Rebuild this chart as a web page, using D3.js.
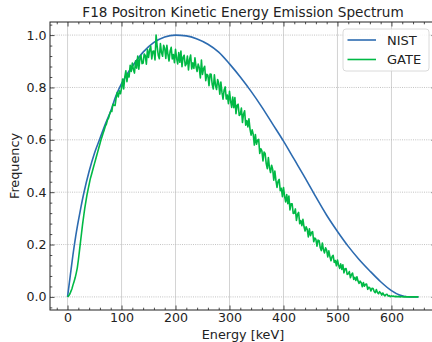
<!DOCTYPE html>
<html>
<head>
<meta charset="utf-8">
<script src="https://cdn.jsdelivr.net/npm/d3@7"></script>
<style>
  body { margin: 0; background: #fff; }
  svg { display: block; font-family: "DejaVu Sans", sans-serif; }
</style>
</head>
<body>
<svg id="chart" width="432" height="342"></svg>
<script>
// NIST reference spectrum, [energy keV, frequency]
const nistData = [
  [0, 0], [5, 0.08], [10, 0.16], [15, 0.23], [20, 0.29], [25, 0.345], [30, 0.395],
  [40, 0.48], [50, 0.55], [60, 0.605], [70, 0.66], [80, 0.71], [90, 0.77],
  [100, 0.815], [110, 0.85], [125, 0.895], [140, 0.935], [160, 0.972], [180, 0.993],
  [200, 1.0], [220, 0.997], [240, 0.985], [260, 0.965], [280, 0.935], [300, 0.89],
  [320, 0.84], [340, 0.785], [360, 0.725], [380, 0.66], [400, 0.595], [420, 0.525],
  [440, 0.455], [460, 0.382], [480, 0.312], [500, 0.25], [520, 0.193], [540, 0.143],
  [560, 0.099], [580, 0.058], [600, 0.024], [615, 0.007], [625, 0.0015], [635, 0], [650, 0]
];

// GATE simulated histogram, one value per 2 keV bin starting at 0 keV
const gateBinWidth = 2;
const gateValues = [
  0, 0.004, 0.01, 0.02, 0.03, 0.045, 0.058, 0.072, 0.09, 0.11,
  0.14, 0.175, 0.21, 0.245, 0.28, 0.31, 0.34, 0.365, 0.39, 0.41,
  0.43, 0.45, 0.465, 0.48, 0.495, 0.51, 0.525, 0.54, 0.555, 0.57,
  0.585, 0.6, 0.613, 0.626, 0.638, 0.652, 0.66, 0.676, 0.683, 0.698,
  0.709, 0.708, 0.736, 0.732, 0.731, 0.760, 0.781, 0.764, 0.787, 0.776,
  0.797, 0.832, 0.794, 0.839, 0.864, 0.822, 0.852, 0.840, 0.885, 0.861,
  0.893, 0.868, 0.855, 0.902, 0.874, 0.920, 0.870, 0.910, 0.923, 0.891,
  0.893, 0.928, 0.921, 0.889, 0.945, 0.915, 0.943, 0.958, 0.909, 0.938,
  0.939, 0.905, 1.0, 0.957, 0.923, 0.910, 0.968, 0.933, 0.919, 0.961,
  0.950, 0.911, 0.961, 0.925, 0.901, 0.938, 0.953, 0.909, 0.926, 0.895,
  0.946, 0.912, 0.890, 0.933, 0.896, 0.939, 0.879, 0.916, 0.923, 0.883,
  0.890, 0.920, 0.867, 0.907, 0.924, 0.871, 0.894, 0.873, 0.913, 0.879,
  0.861, 0.889, 0.875, 0.836, 0.905, 0.850, 0.872, 0.881, 0.826, 0.850,
  0.846, 0.807, 0.851, 0.850, 0.811, 0.794, 0.848, 0.809, 0.792, 0.830,
  0.816, 0.774, 0.821, 0.782, 0.755, 0.790, 0.802, 0.756, 0.771, 0.738,
  0.785, 0.749, 0.724, 0.763, 0.723, 0.761, 0.700, 0.732, 0.736, 0.693,
  0.697, 0.721, 0.666, 0.699, 0.711, 0.656, 0.674, 0.649, 0.680, 0.641,
  0.618, 0.638, 0.621, 0.580, 0.620, 0.583, 0.599, 0.602, 0.548, 0.566,
  0.558, 0.519, 0.553, 0.548, 0.509, 0.490, 0.532, 0.494, 0.475, 0.503,
  0.487, 0.446, 0.481, 0.445, 0.418, 0.442, 0.449, 0.406, 0.415, 0.383,
  0.418, 0.385, 0.363, 0.391, 0.356, 0.385, 0.332, 0.356, 0.356, 0.319,
  0.320, 0.336, 0.292, 0.315, 0.323, 0.280, 0.292, 0.272, 0.296, 0.268,
  0.252, 0.268, 0.257, 0.229, 0.260, 0.234, 0.246, 0.249, 0.211, 0.225,
  0.220, 0.194, 0.217, 0.215, 0.189, 0.177, 0.206, 0.180, 0.168, 0.188,
  0.178, 0.153, 0.176, 0.154, 0.138, 0.154, 0.159, 0.132, 0.139, 0.119,
  0.141, 0.122, 0.109, 0.126, 0.105, 0.123, 0.092, 0.107, 0.108, 0.086,
  0.088, 0.097, 0.073, 0.086, 0.091, 0.067, 0.075, 0.063, 0.077, 0.061,
  0.052, 0.060, 0.054, 0.039, 0.055, 0.041, 0.048, 0.049, 0.029, 0.037,
  0.034, 0.023, 0.033, 0.032, 0.021, 0.016, 0.028, 0.017, 0.012, 0.020,
  0.015, 0.007, 0.015, 0.008, 0.004, 0.009, 0.010, 0.003, 0.005, 0.001,
  0.004, 0.002, 0.003, 0.001, 0.002, 0.001, 0.001, 0.002, 0, 0.001,
  0.001, 0, 0, 0.001, 0, 0, 0, 0, 0, 0,
  0, 0, 0, 0, 0, 0
];

const xTicks = [0, 100, 200, 300, 400, 500, 600];
const yTicks = [0.0, 0.2, 0.4, 0.6, 0.8, 1.0];
const titleText = "F18 Positron Kinetic Energy Emission Spectrum";
const xLabel = "Energy [keV]";
const yLabel = "Frequency";
const seriesNames = ["NIST", "GATE"];
const seriesColors = ["#2c6bb0", "#00b945"];

const svg = d3.select("#chart");
const plotLeft = 50, plotRight = 436, plotTop = 22, plotBottom = 310;

const x = d3.scaleLinear().domain([-32.5, 682.5]).range([plotLeft, plotRight]);
const y = d3.scaleLinear().domain([-0.05, 1.05]).range([plotBottom, plotTop]);

const xMinor = d3.range(-20, 681, 20).filter(v => v % 100 !== 0);
const yMinor = d3.range(-0.04, 1.05, 0.04).map(v => +v.toFixed(2)).filter(v => Math.abs(v * 5 - Math.round(v * 5)) > 1e-6);

// grid
const grid = svg.append("g");
grid.selectAll("line.vx").data(xTicks).join("line")
  .attr("x1", d => x(d)).attr("x2", d => x(d))
  .attr("y1", plotTop).attr("y2", plotBottom)
  .attr("stroke", "#c8c8c8").attr("stroke-width", 0.8);
grid.selectAll("line.hy").data(yTicks).join("line")
  .attr("x1", plotLeft).attr("x2", plotRight)
  .attr("y1", d => y(d)).attr("y2", d => y(d))
  .attr("stroke", "#b4b4b4").attr("stroke-width", 0.8)
  .attr("stroke-dasharray", "1,1.2");

// lines
svg.append("defs").append("clipPath").attr("id", "clip")
  .append("rect").attr("x", plotLeft).attr("y", plotTop)
  .attr("width", plotRight - plotLeft).attr("height", plotBottom - plotTop);

const gateData = gateValues.map((v, i) => [i * gateBinWidth, v]);

svg.append("path").datum(nistData)
  .attr("clip-path", "url(#clip)")
  .attr("fill", "none").attr("stroke", seriesColors[0]).attr("stroke-width", 1.6)
  .attr("d", d3.line().x(d => x(d[0])).y(d => y(d[1])).curve(d3.curveMonotoneX));

svg.append("path").datum(gateData)
  .attr("clip-path", "url(#clip)")
  .attr("fill", "none").attr("stroke", seriesColors[1]).attr("stroke-width", 1.6)
  .attr("stroke-linejoin", "round")
  .attr("d", d3.line().x(d => x(d[0])).y(d => y(d[1])));

// axes, ticks inward on all four sides
function addAxis(axisFn, scale, ticks, size, pos, labels) {
  const a = axisFn(scale).tickValues(ticks).tickSizeInner(-size).tickSizeOuter(0);
  if (labels) a.tickPadding(3.5).tickFormat(labels); else a.tickFormat("");
  const g = svg.append("g").attr("transform", pos).call(a);
  g.select(".domain").remove();
  g.selectAll("line").attr("stroke", "#222").attr("stroke-width", 0.8);
  g.selectAll("text").attr("font-family", "DejaVu Sans").attr("font-size", 12.6).attr("fill", "#222");
  return g;
}
addAxis(d3.axisBottom, x, xTicks, 4.5, `translate(0,${plotBottom})`, d3.format("d"));
addAxis(d3.axisBottom, x, xMinor, 2.3, `translate(0,${plotBottom})`, null);
addAxis(d3.axisTop, x, xTicks, 4.5, `translate(0,${plotTop})`, null);
addAxis(d3.axisTop, x, xMinor, 2.3, `translate(0,${plotTop})`, null);
addAxis(d3.axisLeft, y, yTicks, 4.5, `translate(${plotLeft},0)`, d3.format(".1f"));
addAxis(d3.axisLeft, y, yMinor, 2.3, `translate(${plotLeft},0)`, null);
addAxis(d3.axisRight, y, yTicks, 4.5, `translate(${plotRight},0)`, null);
addAxis(d3.axisRight, y, yMinor, 2.3, `translate(${plotRight},0)`, null);

svg.append("rect").attr("x", plotLeft).attr("y", plotTop)
  .attr("width", plotRight - plotLeft).attr("height", plotBottom - plotTop)
  .attr("fill", "none").attr("stroke", "#222").attr("stroke-width", 1);

// labels
svg.append("text").attr("x", (plotLeft + plotRight) / 2).attr("y", 17)
  .attr("text-anchor", "middle").attr("font-size", 13.6).attr("fill", "#222")
  .text(titleText);
svg.append("text").attr("x", (plotLeft + plotRight) / 2).attr("y", 338.5)
  .attr("text-anchor", "middle").attr("font-size", 12.8).attr("fill", "#222")
  .text(xLabel);
svg.append("text").attr("transform", `translate(19,${(plotTop + plotBottom) / 2}) rotate(-90)`)
  .attr("text-anchor", "middle").attr("font-size", 12.8).attr("fill", "#222")
  .text(yLabel);

// legend
const lg = svg.append("g");
lg.append("rect").attr("x", 343).attr("y", 29).attr("width", 86).attr("height", 42)
  .attr("rx", 3).attr("fill", "#fff").attr("fill-opacity", 0.85)
  .attr("stroke", "#d0d0d0").attr("stroke-width", 0.8);
seriesNames.forEach((name, i) => {
  const yy = 40 + i * 19.5;
  lg.append("line").attr("x1", 347.5).attr("x2", 376).attr("y1", yy).attr("y2", yy)
    .attr("stroke", seriesColors[i]).attr("stroke-width", 1.6);
  lg.append("text").attr("x", 387).attr("y", yy + 4.7)
    .attr("font-size", 13).attr("fill", "#222").text(name);
});
</script>
</body>
</html>
